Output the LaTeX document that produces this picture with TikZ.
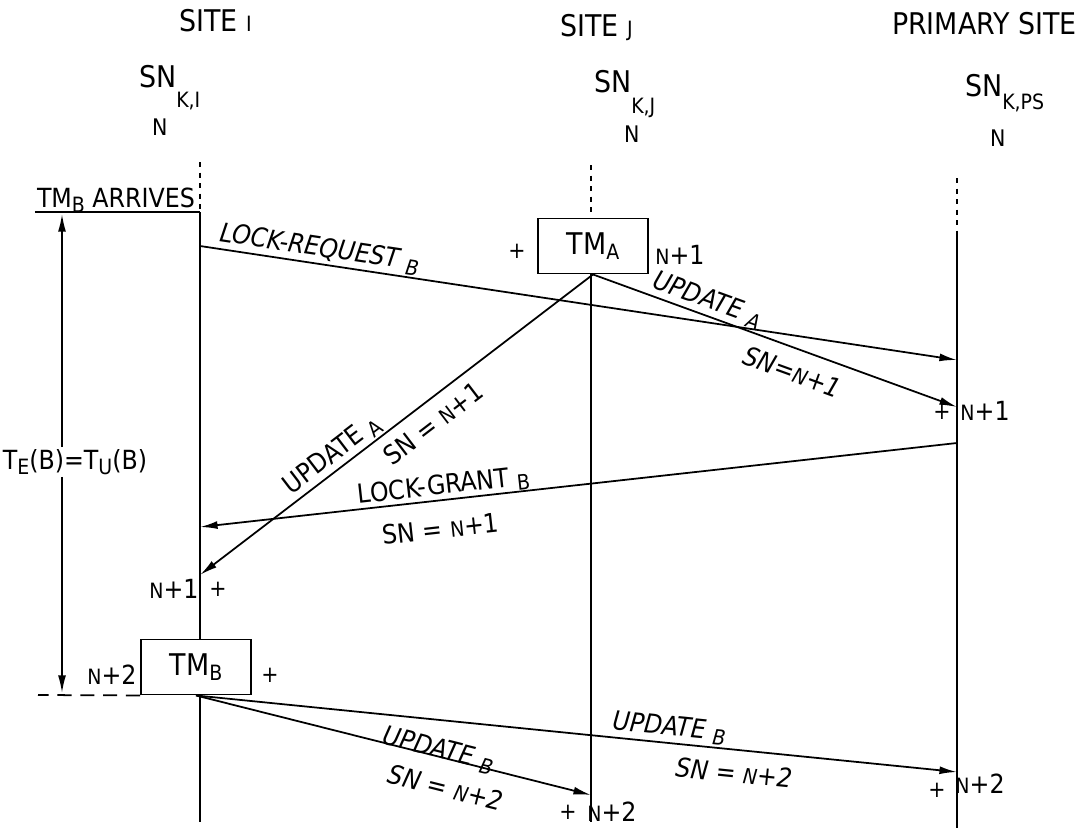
\documentclass[tikz,border=0pt]{standalone}
\usepackage{fontspec}
\setmainfont{DejaVu Sans Condensed}
\usepackage{tikz}
\usetikzlibrary{arrows.meta,calc}
\newcommand{\lowtag}[2][0.35ex]{\raisebox{-#1}{\fontsize{12}{13}\selectfont #2}}
\newcommand{\smn}{{\fontsize{12}{13}\selectfont N}}

\begin{document}
\begin{tikzpicture}[x=0.02cm,y=-0.02cm,
          every node/.style={font=\fontsize{15}{17}\selectfont,inner sep=1pt},
          ital/.style={font=\fontsize{15}{17}\selectfont\itshape},
          head/.style={font=\fontsize{17}{19}\selectfont,anchor=base west},
          small/.style={font=\fontsize{13}{15}\selectfont},
          msg/.style={-{Latex[length=10pt,width=4.5pt]},line width=1pt},
          life/.style={line width=0.9pt},
          lifedot/.style={line width=0.9pt,dash pattern=on 3pt off 3pt},
          tmbox/.style={draw,line width=1.1pt,minimum width=2.2cm,minimum height=1.1cm,
            font=\fontsize{17}{19}\selectfont}]
        \useasboundingbox (0,0) rectangle (1075,828);
        % headers
        \node[head] (siteI) at (177,32) {SITE \lowtag[0pt]{I}};
        \node[head] (siteJ) at (558,37) {SITE \lowtag[0pt]{J}};
        \node[head] (siteP) at (890,35) {PRIMARY SITE};
        \node[head] (snI) at (137,88) {SN\lowtag[11pt]{K,I}};
        \node[head] (snJ) at (592,92) {SN\lowtag[12pt]{K,J}};
        \node[head] (snP) at (963,97) {SN\lowtag[7pt]{K,PS}};
        \node[anchor=base west,small] (nI) at (150,135) {N};
        \node[anchor=base west,small] (nJ) at (622,142) {N};
        \node[anchor=base west,small] (nP) at (988,147) {N};
        % boxes
        \node[tmbox] (tma) at (593,246) {TM\lowtag{A}};
        \node[tmbox] (tmb) at (196,667) {TM\lowtag{B}};
        \node[small] (plusA) at (517,251) {+};
        \node (nA) at (680,255) {\smn+1};
        \node (nB) at (112,675) {\smn+2};
        \node[small] (plusB) at (270,675) {+};
        % lifelines
        \coordinate (iTop) at (200,162);
        \coordinate (iArr) at (200,212);
        \coordinate (iReq) at (200,246);
        \coordinate (iGrant) at (200,527);
        \coordinate (iUpd) at (200,575);
        \coordinate (iBot) at (200,822);
        \coordinate (jTop) at (591,165);
        \coordinate (jUpdB) at (591,795);
        \coordinate (jBot) at (591,822);
        \coordinate (pTop) at (957,178);
        \coordinate (pSolid) at (957,232);
        \coordinate (pReq) at (957,360);
        \coordinate (pUpdA) at (957,407);
        \coordinate (pGrant) at (957,443);
        \coordinate (pUpdB) at (957,772);
        \coordinate (pBot) at (957,828);
        \draw[lifedot] (iTop) -- (iArr);
        \draw[life] (iArr) -- (tmb.north -| iArr);
        \draw[life] (tmb.south -| iArr) -- (iBot);
        \draw[lifedot] (jTop) -- (tma.north -| jTop);
        \draw[life] (tma.south -| jTop) -- (jBot);
        \draw[lifedot] (pTop) -- (pSolid);
        \draw[life] (pSolid) -- (pBot);
        % arrival of TM_B
        \node[anchor=base east] (arr) at (197,207) {TM\lowtag{B} ARRIVES};
        \draw[life] (arr.west |- iArr) -- (iArr);
        \node (te) at (75,462) {T\lowtag{E}(B)=T\lowtag{U}(B)};
        \coordinate (tTop) at (62,214);
        \coordinate (tBot) at (62,693);
        \coordinate (tLeft) at (38,695);
        \draw[msg] (te.north -| tTop) -- (tTop);
        \draw[msg] (te.south -| tBot) -- (tBot);
        \draw[line width=1pt,dash pattern=on 8pt off 5pt] (tmb.south west) -- (tLeft);
        % messages
        \draw[msg] (iReq) -- node[ital,sloped,above,pos=0.155] {LOCK-REQUEST \lowtag{B}} (pReq);
        \draw[msg] (tma.south) -- node[ital,sloped,above,pos=0.30] {UPDATE \lowtag{A}}
          node[ital,sloped,below=6pt,pos=0.57] {SN=\smn+1} (pUpdA);
        \draw[msg] (tma.south) -- node[sloped,above,pos=0.64] {UPDATE \lowtag{A}}
          node[sloped,below=5pt,pos=0.44] {SN = \smn+1} (iUpd);
        \draw[msg] (pGrant) -- node[sloped,above=-1pt,pos=0.676] {LOCK-GRANT \lowtag{B}}
          node[sloped,below=9pt,pos=0.686] {SN = \smn+1} (iGrant);
        \draw[msg] (tmb.south) -- node[ital,sloped,above=-5pt,pos=0.61] {UPDATE \lowtag{B}}
          node[ital,sloped,below=9pt,pos=0.65] {SN = \smn+2} (jUpdB);
        \draw[msg] (tmb.south) -- node[ital,sloped,above,pos=0.62] {UPDATE \lowtag{B}}
          node[ital,sloped,below=6pt,pos=0.71] {SN = \smn+2} (pUpdB);
        % sequence numbers on arrival
        \node (nI1) at (174,589) {\smn+1};
        \node[small] (plusI1) at (218,589) {+};
        \node[small] (plusP1) at (942,412) {+};
        \node (nP1) at (985,411) {\smn+1};
        \node[small] (plusJ2) at (568,812) {+};
        \node (nJ2) at (612,812) {\smn+2};
        \node[small] (plusP2) at (937,790) {+};
        \node (nP2) at (980,784) {\smn+2};
      \end{tikzpicture}
\end{document}
